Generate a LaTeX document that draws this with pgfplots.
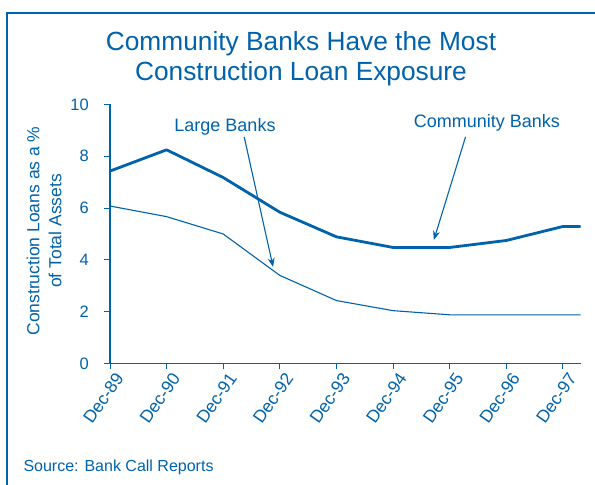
\documentclass[border=0pt]{standalone}
\usepackage{pgfplots}
\pgfplotsset{compat=1.18}
\usepackage{fontspec}
\setmainfont{Liberation Sans}
\usetikzlibrary{arrows.meta}
\definecolor{fedblue}{RGB}{0,98,170}
\begin{document}
\begin{tikzpicture}
\path[use as bounding box] (0,0) rectangle (595bp,485bp);
\draw[fedblue, line width=2bp] (7bp,0) -- (7bp,472bp) -- (595bp,472bp);
\node[fedblue, align=center, font=\fontsize{26.3bp}{30bp}\selectfont] at (301bp,426bp) {Community Banks Have the Most\\Construction Loan Exposure};
\begin{axis}[
  at={(110bp,121.5bp)}, anchor=south west,
  scale only axis, width=470.5bp, height=259bp,
  xmin=0, xmax=8.31, ymin=0, ymax=10,
  axis x line=bottom, axis y line=left,
  axis line style={-, fedblue, line width=1.2bp},
  tick style={fedblue, line width=1bp},
  tick align=outside, major tick length=6bp,
  xtick={0,1,2,3,4,5,6,7,8},
  xticklabels={Dec-89,Dec-90,Dec-91,Dec-92,Dec-93,Dec-94,Dec-95,Dec-96,Dec-97},
  ytick={0,2,4,6,8,10},
  /pgf/number format/assume math mode=true,
  tick label style={text=fedblue, font=\fontsize{16.5bp}{19bp}\selectfont},
  xticklabel style={rotate=55, anchor=east, inner sep=2bp, yshift=-11bp, xshift=3bp, font=\fontsize{17.5bp}{19bp}\selectfont},
  yticklabel style={inner sep=0bp, xshift=-15bp},
  clip=false,
]
\addplot[fedblue, line width=2.8bp, line join=round] coordinates {
(0,7.43)(1,8.25)(2,7.18)(3,5.84)(4,4.89)(5,4.48)(6,4.48)(7,4.75)(8,5.29)(8.31,5.29)};
\addplot[fedblue, line width=1.1bp, line join=round] coordinates {
(0,6.08)(1,5.67)(2,5.0)(3,3.4)(4,2.43)(5,2.04)(6,1.88)(7,1.88)(8,1.88)(8.31,1.88)};
\draw[fedblue, line width=1.1bp, -{Stealth[length=9bp,width=7bp]}] (axis cs:2.37,8.75) -- (axis cs:2.88,3.73);
\draw[fedblue, line width=1.1bp, -{Stealth[length=9bp,width=7bp]}] (axis cs:6.28,8.75) -- (axis cs:5.72,4.77);
\end{axis}
\node[fedblue, font=\fontsize{18bp}{21bp}\selectfont] at (225bp,358bp) {Large Banks};
\node[fedblue, font=\fontsize{18bp}{21bp}\selectfont] at (487bp,362bp) {Community Banks};
\node[fedblue, rotate=90, align=center, font=\fontsize{17.5bp}{22bp}\selectfont] at (44bp,254bp) {Construction Loans as a \%\\of Total Assets};
\node[fedblue, anchor=west, font=\fontsize{16bp}{19bp}\selectfont] at (20bp,18bp) {Source: Bank Call Reports};
\end{tikzpicture}
\end{document}
